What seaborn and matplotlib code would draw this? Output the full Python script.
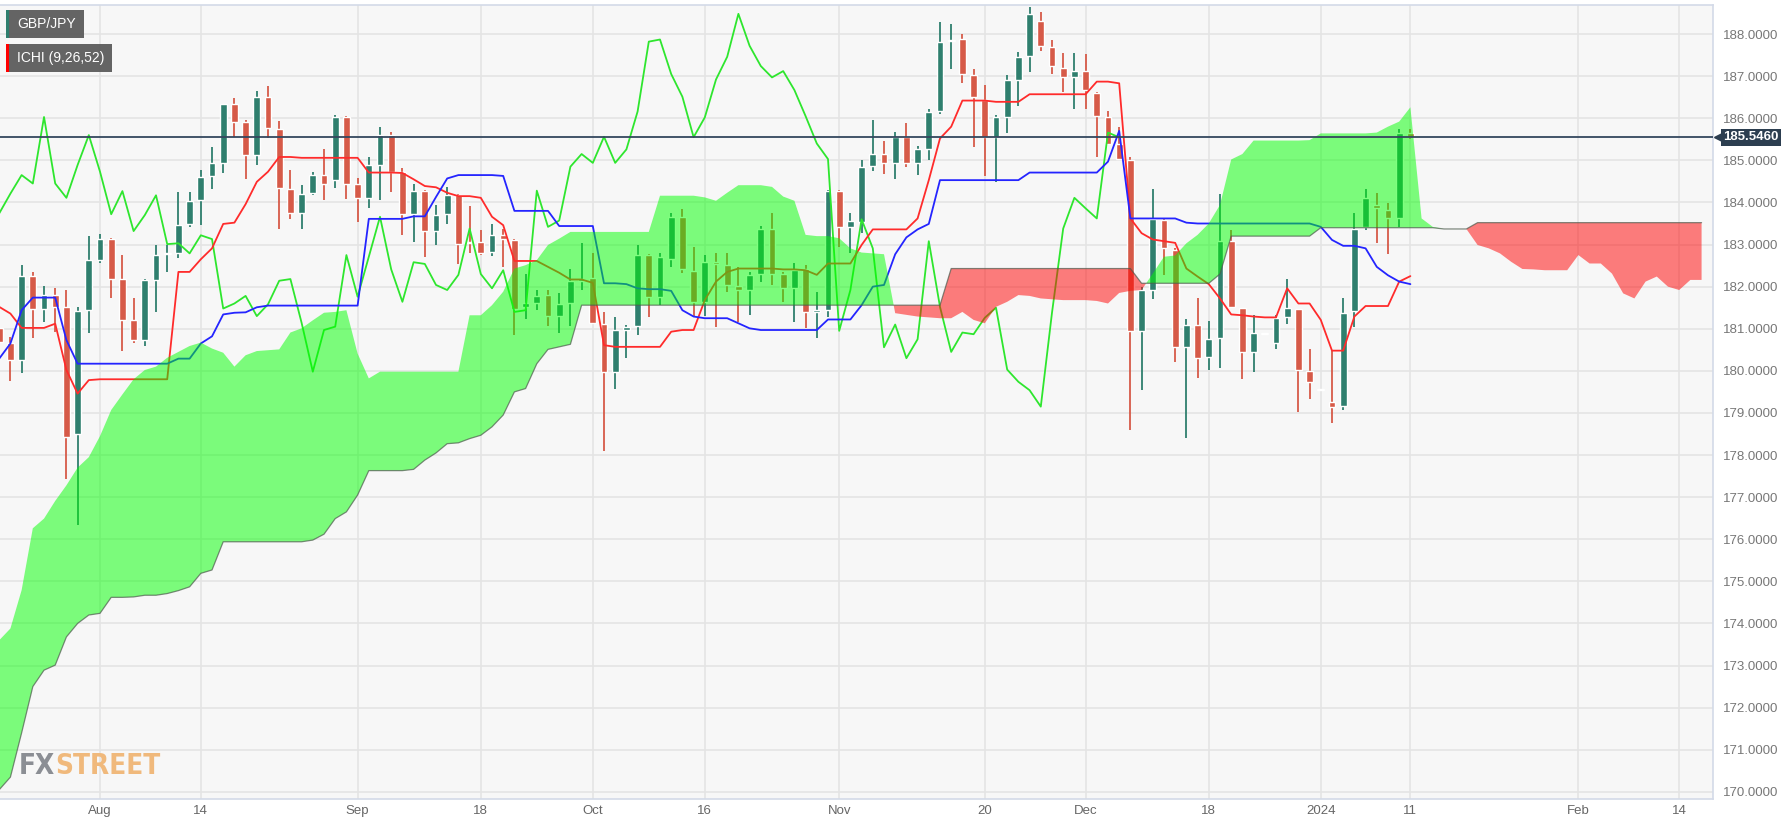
import numpy as np
import pandas as pd
import seaborn as sns
import matplotlib
matplotlib.use("Agg")
import matplotlib.pyplot as plt
from matplotlib.patches import Rectangle

# daily GBP/JPY candles, 19 Jul 2023 .. 11 Jan 2024 (trading days)
opens = [181.01, 180.67, 180.25, 182.25, 181.48, 181.80, 181.51, 178.51, 181.44, 182.63,
         183.13, 182.19, 181.20, 180.73, 182.15, 182.78, 182.80, 183.48, 184.05, 184.62,
         184.94, 186.33, 185.90, 185.12, 186.51, 185.74, 184.33, 183.75, 184.23, 184.65,
         184.53, 186.02, 184.43, 184.11, 184.90, 185.60, 184.73, 183.72, 184.27, 183.32,
         183.72, 184.17, 183.05, 183.06, 182.83, 183.22, 183.10, 181.51, 181.62, 181.81,
         181.30, 181.60, 182.14, 182.21, 181.12, 179.98, 180.98, 181.06, 182.75, 181.76,
         182.65, 183.66, 182.38, 181.64, 182.58, 182.51, 182.01, 181.92, 182.30, 183.38,
         182.30, 181.96, 182.43, 181.40, 181.44, 184.28, 183.42, 183.54, 184.87, 185.15,
         184.94, 185.55, 184.94, 185.26, 186.18, 187.83, 187.88, 187.03, 186.43, 185.55,
         186.02, 186.92, 187.48, 188.32, 187.70, 187.20, 186.97, 187.12, 186.61, 186.04,
         185.39, 185.02, 180.95, 181.92, 183.58, 182.87, 180.56, 181.10, 180.34, 180.77,
         183.08, 181.50, 180.45, 180.87, 180.65, 181.29, 181.48, 180.00, 179.54, 179.27,
         179.16, 181.43, 183.42, 183.94, 183.82, 183.62, 185.66]
highs = [181.30, 180.81, 182.51, 182.35, 182.01, 181.97, 181.93, 181.51, 183.21, 183.26,
         183.15, 182.76, 181.74, 182.19, 182.99, 182.99, 184.25, 184.25, 184.78, 185.31,
         186.35, 186.49, 185.95, 186.65, 186.77, 185.93, 184.77, 184.41, 184.73, 185.26,
         186.07, 186.05, 184.57, 185.07, 185.80, 185.68, 184.81, 184.45, 184.30, 183.94,
         184.37, 184.20, 183.91, 183.34, 183.48, 183.38, 183.12, 182.31, 181.93, 181.93,
         181.84, 182.41, 183.03, 182.81, 181.40, 181.27, 181.09, 182.99, 182.77, 182.79,
         183.76, 183.84, 182.93, 182.75, 182.81, 182.79, 182.47, 182.35, 183.44, 183.74,
         182.35, 182.55, 182.51, 181.88, 184.30, 184.30, 183.74, 185.01, 185.97, 185.47,
         185.68, 185.88, 185.34, 186.21, 188.29, 188.24, 188.00, 187.16, 186.79, 186.08,
         187.03, 187.58, 188.65, 188.53, 187.86, 187.54, 187.56, 187.52, 186.63, 186.18,
         185.80, 185.09, 182.00, 184.33, 183.62, 182.91, 181.22, 181.74, 181.19, 184.19,
         183.34, 181.50, 181.33, 180.89, 181.33, 182.18, 181.48, 180.53, 179.55, 180.48,
         181.74, 183.76, 184.33, 184.23, 183.98, 185.74, 185.74]
lows = [180.45, 179.76, 179.94, 180.77, 181.16, 180.93, 177.44, 176.33, 180.89, 182.57,
        181.74, 180.48, 180.65, 180.59, 181.39, 182.35, 182.69, 183.41, 183.46, 184.33,
        184.69, 185.56, 184.55, 184.89, 185.52, 183.38, 183.60, 183.36, 184.17, 184.07,
        184.35, 184.09, 183.54, 183.86, 184.07, 184.25, 183.22, 183.06, 182.71, 182.99,
        183.48, 182.53, 182.79, 182.75, 182.72, 182.47, 180.85, 181.22, 181.44, 181.07,
        180.90, 181.06, 181.92, 181.13, 178.10, 179.58, 180.30, 180.85, 181.29, 181.56,
        182.47, 182.32, 181.30, 181.30, 181.03, 181.88, 181.17, 181.33, 182.12, 182.04,
        181.64, 181.17, 181.01, 180.77, 181.29, 182.95, 182.79, 183.27, 184.75, 184.67,
        184.55, 184.85, 184.65, 185.01, 186.10, 187.18, 186.84, 185.32, 184.63, 184.49,
        185.64, 186.29, 187.11, 187.60, 187.05, 186.63, 186.23, 186.21, 185.09, 185.40,
        185.01, 178.59, 179.54, 181.70, 182.28, 180.22, 178.40, 179.84, 180.02, 180.06,
        181.52, 179.80, 179.98, 180.85, 180.53, 181.11, 179.03, 179.32, 179.53, 178.77,
        179.07, 181.05, 183.34, 183.03, 182.77, 183.42, 185.50]
closes = [180.69, 180.25, 182.25, 181.48, 181.80, 181.51, 178.43, 181.43, 182.63, 183.13,
          182.19, 181.20, 180.73, 182.15, 182.76, 182.80, 183.46, 184.04, 184.61, 184.93,
          186.33, 185.90, 185.12, 186.51, 185.76, 184.35, 183.74, 184.21, 184.65, 184.45,
          186.03, 184.45, 184.11, 184.89, 185.60, 184.73, 183.72, 184.27, 183.32, 183.70,
          184.17, 183.01, 183.03, 182.79, 183.22, 183.13, 181.48, 181.60, 181.78, 181.30,
          181.58, 182.14, 182.18, 181.14, 179.98, 180.97, 181.05, 182.75, 181.76, 182.71,
          183.66, 182.41, 181.64, 182.58, 182.54, 182.04, 181.92, 182.28, 183.38, 182.30,
          181.96, 182.39, 181.40, 181.44, 184.28, 183.42, 183.57, 184.85, 185.15, 184.94,
          185.56, 184.94, 185.26, 186.16, 187.82, 187.87, 187.05, 186.51, 185.55, 186.02,
          186.92, 187.46, 188.48, 187.72, 187.24, 186.97, 187.12, 186.67, 186.05, 185.40,
          185.03, 180.95, 181.92, 183.60, 182.91, 180.56, 181.10, 180.30, 180.75, 183.08,
          181.52, 180.45, 180.91, 180.87, 181.26, 181.50, 180.03, 179.74, 179.54, 179.15,
          181.38, 183.38, 184.11, 183.86, 183.62, 185.66, 185.546]

# Ichimoku (9, 26, 52) lines
tenkan = [181.52, 181.36, 181.02, 181.02, 181.02, 181.12, 180.02, 179.46, 179.78,
          179.80, 179.80, 179.80, 179.80, 179.80, 179.80, 179.80,
          182.35, 182.35, 182.65, 182.91, 183.49, 183.52, 183.96, 184.49, 184.73, 185.08,
          185.08, 185.06, 185.06, 185.06, 185.06, 185.06, 185.06,
          184.71, 184.71, 184.71, 184.70, 184.55, 184.39, 184.36, 184.23, 184.15, 184.15,
          184.11, 183.66, 183.46, 182.61, 182.61, 182.61, 182.47, 182.33, 182.17, 182.17,
          182.09, 180.61, 180.57, 180.57, 180.57, 180.57, 180.57, 180.93, 180.97, 180.97,
          181.68, 182.12, 182.35, 182.43, 182.43, 182.43, 182.43, 182.41, 182.41, 182.39,
          182.28, 182.55, 182.55, 182.55, 182.99, 183.36, 183.36, 183.36, 183.36, 183.62,
          184.53, 185.52, 185.80, 186.42, 186.42, 186.42, 186.39, 186.39, 186.39, 186.57,
          186.57, 186.57, 186.57, 186.57, 186.57, 186.87, 186.87, 186.83, 183.62, 183.27,
          183.12, 183.08, 183.04, 182.43, 182.24, 182.06, 181.72, 181.34, 181.32, 181.29,
          181.27, 181.27, 181.96, 181.60, 181.60, 181.21, 180.48, 180.48, 181.29, 181.54,
          181.54, 181.54, 182.12, 182.25]
kijun = ([180.29, 180.65, 181.44, 181.74, 181.74, 181.74, 180.73, 180.17] + [180.17] * 8
         + [180.29, 180.29, 180.65, 180.82, 181.34, 181.38, 181.39, 181.51, 181.55] + [181.55] * 8
         + [183.61] * 4 + [183.67, 183.67, 184.13, 184.57] + [184.65] * 4 + [184.63]
         + [183.80] * 4 + [183.44] * 4
         + [182.08, 182.08, 182.06, 181.96, 181.94, 181.94, 181.90, 181.44, 181.29]
         + [181.25] * 3 + [181.13, 181.01] + [180.97] * 6 + [181.22] * 3
         + [181.56, 182.00, 182.04, 182.77, 183.17, 183.36, 183.49] + [184.53] * 8
         + [184.71] * 7 + [184.97, 185.70] + [183.62] * 5 + [183.52] + [183.50] * 11
         + [183.42, 183.11, 182.97, 182.97, 182.91, 182.47, 182.27, 182.12, 182.06])
span_a = ([173.60, 173.88, 174.79, 176.26, 176.49, 176.91, 177.28, 177.70, 177.95, 178.45,
           179.07, 179.44, 179.80, 180.02, 180.10, 180.31, 180.45, 180.59, 180.67, 180.53,
           180.43, 180.10, 180.37, 180.47, 180.49, 180.51, 180.91, 181.01, 181.20, 181.38,
           181.40, 181.44, 180.41, 179.82] + [179.98] * 8
          + [181.32, 181.32, 181.56, 181.88, 182.43, 182.51, 182.63, 182.99, 183.14, 183.30]
          + [183.30] * 7 + [184.16] * 4 + [184.12, 184.04, 184.23] + [184.41] * 3
          + [184.37, 184.14, 184.04, 183.23, 183.20, 183.20, 183.15, 182.91, 182.81, 182.79,
             182.77, 181.37, 181.33, 181.29, 181.27, 181.25, 181.25, 181.40, 181.21, 181.13,
             181.52, 181.64, 181.80, 181.78, 181.72, 181.70, 181.68, 181.68, 181.68, 181.66,
             181.60, 181.85, 181.90, 181.92, 182.31, 182.71, 182.74, 183.03, 183.23, 183.50,
             183.94, 185.02, 185.15] + [185.47] * 5 + [185.48] + [185.64] * 5
          + [185.66, 185.80, 185.92, 186.26, 183.62, 183.42, 183.37, 183.37, 183.37, 182.99,
             182.91, 182.79, 182.59, 182.42, 182.41, 182.39, 182.39, 182.39, 182.75, 182.55,
             182.55, 182.31, 181.84, 181.72, 182.12, 182.24, 182.00, 181.92, 182.16, 182.16])
span_b = ([170.05, 170.35, 171.40, 172.50, 172.89, 173.01, 173.68, 174.00, 174.20, 174.24,
           174.62, 174.62, 174.63, 174.67, 174.67, 174.71, 174.78, 174.87, 175.19, 175.27]
          + [175.94] * 8 + [175.98, 176.12, 176.49, 176.65, 177.05] + [177.63] * 4
          + [177.66, 177.88, 178.05, 178.27, 178.29, 178.39, 178.47, 178.67, 178.95, 179.50,
             179.58, 180.17, 180.51, 180.57, 180.63]
          + [181.56] * 33 + [182.43] * 17 + [182.08] * 7 + [182.30] + [183.20] * 8
          + [183.40] * 11 + [183.37] * 3 + [183.52] * 21)

last_price = 185.546
tick_dates = ["2023-08-01", "2023-08-14", "2023-09-01", "2023-09-18", "2023-10-02",
              "2023-10-16", "2023-11-01", "2023-11-20", "2023-12-01", "2023-12-18",
              "2024-01-01", "2024-01-11", "2024-02-01", "2024-02-14"]
tick_labels = ["Aug", "14", "Sep", "18", "Oct", "16", "Nov", "20", "Dec", "18",
               "2024", "11", "Feb", "14"]

# ---------------------------------------------------------------------------
sns.set_style("whitegrid")
plt.rcParams["font.family"] = ["Liberation Sans", "DejaVu Sans"]

dates = pd.bdate_range("2023-07-19", periods=len(span_a))
bars = pd.DataFrame({"open": opens, "high": highs, "low": lows, "close": closes})
bars["x"] = np.arange(len(bars))
lines = pd.DataFrame({"x": np.arange(len(tenkan)), "tenkan": tenkan, "kijun": kijun})
chikou = pd.DataFrame({"x": np.arange(len(closes) - 26), "chikou": closes[26:]})
cloud_x = np.arange(len(span_a))
sa = np.array(span_a)
sb = np.array(span_b)

W, H = 1787, 822
fig = plt.figure(figsize=(W / 100, H / 100), dpi=100)
fig.patch.set_facecolor("white")
ax = fig.add_axes([0, 1 - 799 / H, 1713 / W, 794 / H])
ax.set_facecolor("#f7f7f7")

up_col, down_col = "#2f7f6e", "#d65a48"
cols = np.where(bars["close"] >= bars["open"], up_col, down_col)
body_lo = np.minimum(bars["open"], bars["close"])
body_h = np.maximum(np.abs(bars["close"] - bars["open"]), 0.025)
ax.vlines(bars["x"], bars["low"], bars["high"], colors=cols, lw=1.3, zorder=2)
ax.bar(bars["x"], body_h, bottom=body_lo, width=0.62, color=cols, zorder=2.1)

sns.lineplot(data=chikou, x="x", y="chikou", ax=ax, color="#2ee62e", lw=1.3, zorder=3)
sns.lineplot(data=lines, x="x", y="tenkan", ax=ax, color="#ff2b2b", lw=1.3, zorder=3)
sns.lineplot(data=lines, x="x", y="kijun", ax=ax, color="#2424ff", lw=1.3, zorder=3)

ax.fill_between(cloud_x, sa, sb, where=sa >= sb, interpolate=True,
                color="#00ff00", alpha=0.5, lw=0, zorder=4)
ax.fill_between(cloud_x, sa, sb, where=sa < sb, interpolate=True,
                color="#ff0000", alpha=0.5, lw=0, zorder=4)
ax.plot(cloud_x, sb, color="#4d5a4d", lw=0.9, alpha=0.7, zorder=4.1)

ax.axhline(last_price, color="#34475e", lw=1.3, zorder=5)

# axes, ticks, grid
ax.set_xlim(0.07, 153.02)
ax.set_ylim(169.83, 188.69)
tick_pos = [dates.get_loc(pd.Timestamp(d)) for d in tick_dates]
ax.set_xticks(tick_pos)
ax.set_xticklabels(tick_labels)
ax.set_yticks(np.arange(170, 189))
ax.set_yticklabels([f"{v:.4f}" for v in np.arange(170, 189)])
ax.yaxis.tick_right()
ax.tick_params(axis="y", length=0, pad=7, labelsize=9.5, labelcolor="#777777")
ax.tick_params(axis="x", length=0, pad=4, labelsize=9.5, labelcolor="#666666")
ax.set_xlabel("")
ax.set_ylabel("")
ax.grid(True, color="#e4e4e4", lw=1.2)
ax.set_axisbelow(True)
for side in ["top", "right", "bottom"]:
    ax.spines[side].set_visible(True)
    ax.spines[side].set_color("#d3dae8")
    ax.spines[side].set_linewidth(1.2)
ax.spines["left"].set_visible(False)

# last price tag on the right axis
tag_tr = ax.get_yaxis_transform()
ax.plot([1.0 + 6 / 1713], [last_price], marker="<", ms=7, color="#2c3e50",
        transform=tag_tr, clip_on=False, zorder=6)
ax.text(1.0 + 10 / 1713, last_price, "185.5460", transform=tag_tr, ha="left",
        va="center", color="white", fontsize=9.5, fontweight="bold", zorder=7,
        bbox=dict(boxstyle="square,pad=0.18", fc="#2c3e50", ec="none"))


def fx(px):
    return px / W


def fy(py):
    return 1 - py / H


# legend tags top left
for (x0, x1, y0, y1, stripe, label) in [(6, 84, 10, 38, "#2f7f6e", "GBP/JPY"),
                                         (6, 112, 44, 72, "#ff0000", "ICHI (9,26,52)")]:
    fig.patches.append(Rectangle((fx(x0), fy(y1)), fx(x1 - x0), (y1 - y0) / H,
                                 transform=fig.transFigure, fc="#5c5c5c", ec="none",
                                 alpha=0.95, zorder=10))
    fig.patches.append(Rectangle((fx(x0), fy(y1)), fx(2.5), (y1 - y0) / H,
                                 transform=fig.transFigure, fc=stripe, ec="none", zorder=11))
    fig.text(fx(17), fy((y0 + y1) / 2), label, color="white", fontsize=10,
             ha="left", va="center", zorder=12)

# watermark
wm_font = dict(family=["DejaVu Sans"], fontstretch="condensed", fontweight="bold",
               fontsize=20, va="baseline", ha="left", zorder=12)
t1 = fig.text(fx(19), fy(774), "FX", color="#8b8e94", **wm_font)
fig.canvas.draw()
bb = t1.get_window_extent(renderer=fig.canvas.get_renderer())
fig.text(bb.x1 / W, fy(774), "STREET", color="#f0b97c", **wm_font)

fig.savefig("out.png", dpi=100, facecolor="white")
